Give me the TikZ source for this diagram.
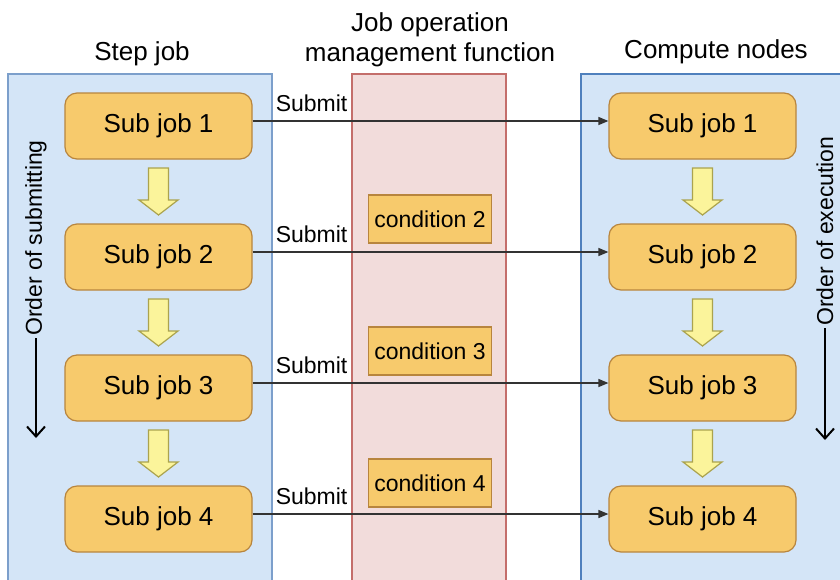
\documentclass[tikz,border=0pt]{standalone}
\usepackage{fontspec}
\setmainfont{Liberation Sans}
\usetikzlibrary{arrows.meta,calc}

\definecolor{panelblue}{HTML}{D4E5F7}
\definecolor{panelline}{HTML}{7C9FCB}
\definecolor{panellinedark}{HTML}{4F80BD}
\definecolor{redfill}{HTML}{F2DCDB}
\definecolor{redline}{HTML}{C46E6B}
\definecolor{jobfill}{HTML}{F7CA6C}
\definecolor{jobline}{HTML}{B8853E}
\definecolor{arrowfill}{HTML}{FBF49B}
\definecolor{arrowline}{HTML}{ABA34E}

\begin{document}
\begin{tikzpicture}[x=0.5pt,y=-0.5pt,font=\fontsize{13}{15}\selectfont,
  job/.style={draw=jobline,fill=jobfill,rounded corners=6pt,line width=0.6pt,
    minimum width=93.5pt,minimum height=33pt,inner sep=0pt},
  cond/.style={draw=jobline,fill=jobfill,line width=0.6pt,
    minimum width=61.5pt,minimum height=24pt,inner sep=0pt,
    font=\fontsize{11.5}{13}\selectfont},
  submit/.style={draw=black!80,line width=0.7pt,-{Triangle[length=5pt,width=4pt]}},
  order/.style={line width=1pt,-{Straight Barb[length=5pt,width=9pt]}},
  blockdown/.pic={
    \draw[fill=arrowfill,draw=arrowline,line width=0.6pt]
      (-5pt,11.75pt) -- (5pt,11.75pt) -- (5pt,-4.25pt) -- (9.75pt,-4.25pt)
      -- (0pt,-11.75pt) -- (-9.75pt,-4.25pt) -- (-5pt,-4.25pt) -- cycle;
  }]

\useasboundingbox (0,0) rectangle (840,579);

% three columns
\draw[fill=panelblue,draw=panelline,line width=0.8pt] (8,74) rectangle (272,595);
\draw[fill=redfill,draw=redline,line width=0.8pt] (352,74) rectangle (506,595);
\draw[fill=panelblue,draw=panellinedark,line width=0.8pt] (581,74) rectangle (855,595);

\node (tstep) at (142,54) {Step job};
\node[align=center] (tjob) at (430,40) {Job operation\\management function};
\node (tcomp) at (716,52) {Compute nodes};

% sub jobs, both sides
\def\ytop{126}
\def\dy{131}
\foreach \i in {1,...,4} {
  \pgfmathsetmacro{\yy}{\ytop+\dy*(\i-1)}
  \node[job] (l\i) at (158.5,\yy) {Sub job \i};
  \node[job] (r\i) at (702.5,\yy) {Sub job \i};
}

% yellow arrows between them
\foreach \i/\j in {1/2,2/3,3/4} {
  \pic at ($(l\i.south)!0.5!(l\j.north)$) {blockdown};
  \pic at ($(r\i.south)!0.5!(r\j.north)$) {blockdown};
}

\foreach \i/\yy in {2/219,3/351,4/483}
  \node[cond] (c\i) at (430,\yy) {condition \i};

% submit lines
\foreach \i in {1,...,4} {
  \draw[submit] ([yshift=2.5pt]l\i.east) -- ([yshift=2.5pt]r\i.west);
  \node[font=\fontsize{11.5}{13}\selectfont] (s\i) at ($(l\i.east)+(59,-23)$) {Submit};
}

% order labels
\node[rotate=90,inner sep=1pt,font=\fontsize{11.5}{13}\selectfont] (osub) at (36,238) {Order of submitting};
\coordinate (osubend) at (36,438);
\draw[order] (osub.west) -- (osub.west |- osubend);

\node[rotate=90,inner sep=1pt,font=\fontsize{11.5}{13}\selectfont] (oexe) at (825,231) {Order of execution};
\coordinate (oexeend) at (825,440);
\draw[order] (oexe.west) -- (oexe.west |- oexeend);

\end{tikzpicture}
\end{document}
